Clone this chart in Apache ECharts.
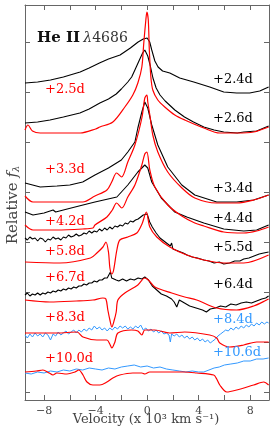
<!DOCTYPE html>
<html><head><meta charset="utf-8">
<script src="https://cdn.jsdelivr.net/npm/echarts@6/dist/echarts.min.js"></script>
<style>html,body{margin:0;padding:0;background:#fff}#c{width:274px;height:434px}</style>
</head><body><div id="c"></div>
<script>
// Tick values
const velocityTicks = [-8, -6, -4, -2, 0, 2, 4, 6, 8];
const velocityLabels = [-8, -4, 0, 4, 8];
const fluxTicks = [0, 50, 100, 150, 200, 250, 300, 350];

// Epoch labels
const epochs = ['+2.4d', '+2.5d', '+2.6d', '+3.3d', '+3.4d', '+4.2d', '+4.4d', '+5.5d', '+5.8d', '+6.7d', '+6.4d', '+8.3d', '+8.4d', '+10.6d', '+10.0d'];

// Spectra: [velocity (x10^3 km/s), relative flux + offset]
const spec24 = [[-9.48,309],[-8.5,310],[-7.5,312],[-6.5,315],[-5.2,320],[-4.5,324],[-3.7,329],[-3.0,333],[-2.1,337],[-1.3,344],[-0.7,350],[-0.3,353],[0.0,354],[0.2,350],[0.36,342],[0.6,331],[0.85,325],[1.2,321],[1.76,319],[2.53,314],[3.62,310],[4.86,305],[5.95,300],[6.95,299],[7.96,299],[8.74,301],[9.43,305]];
const spec26 = [[-9.48,269],[-8.5,270],[-7.54,272],[-6.5,275],[-5.22,279],[-4.5,283],[-3.67,289],[-3.0,293],[-2.4,298],[-2.0,303],[-1.5,310],[-1.2,315],[-0.95,322],[-0.6,332],[-0.35,339],[-0.18,342],[0.05,336],[0.25,326],[0.45,314],[0.7,304],[1.0,297],[1.4,291],[2.15,282],[2.9,275],[3.6,270],[4.4,265],[5.2,262],[5.95,260],[7.0,259],[7.5,260],[8.5,261],[9.43,266]];
const spec25 = [[-9.48,262],[-9.25,267],[-8.9,261],[-8.3,259],[-6.8,259],[-5.2,259],[-4.0,263],[-3.67,265],[-2.66,270],[-1.73,285],[-1.11,297],[-0.72,309],[-0.41,325],[-0.26,349],[-0.1,372],[-0.02,380],[0.09,372],[0.17,342],[0.29,315],[0.44,302],[0.83,292],[1.37,285],[2.15,277],[2.92,272],[4.4,264],[5.64,259],[6.95,259],[8.27,260],[9.43,265]];
const spec33 = [[-9.48,196],[-8.86,190],[-7.5,190],[-5.0,190],[-4.05,196],[-3.12,202],[-2.75,210],[-2.37,219],[-1.98,215],[-1.5,230],[-0.95,247],[-0.41,274],[-0.18,294],[-0.02,297],[0.05,290],[0.21,277],[0.44,257],[0.83,240],[1.6,220],[2.7,204],[3.7,194],[5.4,189],[6.95,189],[8.27,192],[9.43,197]];
const spec34 = [[-9.48,209],[-8.3,205],[-7.0,206],[-6.0,207],[-5.0,210],[-4.05,217],[-3.0,224],[-2.0,232],[-1.5,240],[-0.95,250],[-0.72,264],[-0.41,280],[-0.18,290],[0.05,284],[0.36,267],[0.83,247],[1.6,225],[2.69,207],[3.7,197],[5.4,190],[6.95,190],[8.27,192],[9.43,197]];
const spec42 = [[-9.48,167],[-8.86,162],[-7.0,162],[-5.0,163],[-4.21,164],[-4.05,167],[-3.12,175],[-2.7,182],[-2.37,189],[-1.96,184],[-1.5,195],[-0.95,207],[-0.41,227],[-0.18,238],[-0.02,240],[0.21,222],[0.6,205],[1.6,187],[2.69,176],[3.7,169],[4.4,166],[5.95,160],[7.5,159],[8.5,161],[9.43,165]];
const spec44 = [[-9.48,180],[-8.86,177],[-8.0,179],[-7.3,182],[-7.1,180],[-6.2,183],[-4.98,187],[-4.05,190],[-2.35,195],[-1.5,207],[-0.72,220],[-0.18,227],[0.05,224],[0.36,210],[1.1,194],[2.15,180],[3.08,175],[4.4,169],[5.95,163],[7.5,161],[8.5,162],[9.43,167]];
const spec55 = [[-9.48,154],[-9.3,152],[-9.1,155],[-8.9,153],[-8.7,154],[-8.5,151],[-8.3,154],[-8.1,153],[-7.9,150],[-7.7,153],[-7.5,152],[-7.3,155],[-7.1,153],[-6.9,154],[-6.7,152],[-6.5,155],[-6.3,154],[-6.1,157],[-5.9,155],[-5.7,156],[-5.5,158],[-5.3,156],[-5.1,157],[-4.9,159],[-4.7,158],[-4.5,161],[-4.3,159],[-4.1,161],[-3.9,160],[-3.7,163],[-3.5,161],[-3.3,164],[-3.1,162],[-2.9,165],[-2.7,163],[-2.5,166],[-2.3,165],[-2.1,167],[-1.9,166],[-1.7,169],[-1.5,168],[-1.3,171],[-1.1,170],[-0.9,172],[-0.7,173],[-0.5,175],[-0.3,177],[-0.15,179],[0.0,178],[0.2,170],[0.4,165],[0.7,159],[1.0,154],[1.3,151],[1.6,148],[1.8,146],[1.9,149],[2.0,143],[2.4,141],[2.8,139],[3.1,137],[3.5,135],[3.9,134],[4.4,132],[4.8,131],[5.2,129],[5.6,130],[5.95,128],[6.4,129],[6.8,131],[7.2,131],[7.5,133],[7.9,134],[8.3,136],[8.7,138],[9.05,139],[9.43,140]];
const spec58 = [[-9.48,130],[-6.77,129],[-4.4,134],[-3.9,139],[-3.43,145],[-3.2,150],[-3.0,140],[-2.89,124],[-2.74,118],[-2.6,122],[-2.35,142],[-2.12,152],[-1.5,155],[-0.8,159],[-0.4,168],[-0.06,180],[0.21,165],[0.75,155],[1.76,145],[3.08,137],[4.4,132],[5.95,129],[7.5,129],[9.43,137]];
const spec64 = [[-9.48,97],[-9.3,99],[-9.1,96],[-8.9,98],[-8.7,97],[-8.5,99],[-8.3,97],[-8.1,99],[-7.9,98],[-7.7,100],[-7.5,99],[-7.3,101],[-7.1,100],[-6.9,102],[-6.7,101],[-6.5,103],[-6.3,102],[-6.1,104],[-5.9,103],[-5.7,105],[-5.5,104],[-5.3,106],[-5.1,106],[-4.9,108],[-4.7,107],[-4.5,109],[-4.3,109],[-4.1,111],[-3.9,110],[-3.7,112],[-3.5,112],[-3.3,114],[-3.1,114],[-2.95,116],[-2.85,120],[-2.75,114],[-2.6,113],[-2.4,112],[-2.2,111],[-1.9,113],[-1.6,111],[-1.3,113],[-1.0,112],[-0.7,114],[-0.4,113],[-0.18,115],[0.1,112],[0.4,106],[0.75,102],[1.1,98],[1.5,96],[1.9,93],[2.1,90],[2.3,85],[2.5,92],[2.9,89],[3.3,86],[3.8,84],[4.3,82],[4.6,80],[4.9,83],[5.3,84],[5.7,86],[6.1,85],[6.5,88],[6.9,87],[7.3,89],[7.7,90],[8.1,89],[8.5,91],[8.9,93],[9.2,94],[9.43,96]];
const spec67 = [[-9.48,92],[-7.54,90],[-5.5,91],[-4.21,92],[-3.43,94],[-3.2,93],[-3.05,82],[-2.89,72],[-2.74,65],[-2.55,72],[-2.4,80],[-2.27,92],[-1.73,99],[-0.72,107],[-0.18,114],[0.1,112],[0.6,105],[1.91,99],[2.92,95],[3.85,92],[5.4,84],[6.95,82],[8.27,86],[9.28,92],[9.43,93]];
const spec83 = [[-9.48,59],[-7.0,59],[-5.45,60],[-4.98,55],[-3.9,52],[-3.12,52],[-2.9,48],[-2.74,44],[-2.5,50],[-2.27,59],[-1.19,62],[-0.72,61],[-0.41,57],[-0.18,62],[0.6,62],[1.76,59],[2.92,60],[4.86,57],[5.4,54],[5.64,49],[6.41,45],[7.5,47],[8.5,50],[9.43,50]];
const spec84 = [[-9.48,57],[-9.3,54],[-9.1,58],[-8.9,55],[-8.7,59],[-8.5,56],[-8.3,58],[-8.1,55],[-7.9,59],[-7.7,57],[-7.5,52],[-7.3,58],[-7.1,56],[-6.9,60],[-6.7,57],[-6.5,59],[-6.3,61],[-6.1,58],[-5.9,60],[-5.7,62],[-5.5,59],[-5.3,62],[-5.1,60],[-4.9,63],[-4.7,61],[-4.5,64],[-4.3,62],[-4.1,66],[-3.9,63],[-3.7,65],[-3.5,62],[-3.3,64],[-3.1,61],[-2.9,64],[-2.7,62],[-2.5,65],[-2.3,63],[-2.1,66],[-1.9,64],[-1.7,66],[-1.5,63],[-1.3,65],[-1.1,63],[-0.9,66],[-0.7,64],[-0.5,67],[-0.3,62],[-0.1,64],[0.1,61],[0.3,63],[0.5,60],[0.7,62],[0.9,59],[1.1,61],[1.3,58],[1.5,59],[1.7,57],[1.8,50],[1.9,58],[2.1,56],[2.3,58],[2.5,55],[2.7,57],[2.9,54],[3.1,56],[3.3,53],[3.5,55],[3.7,52],[3.9,54],[4.1,51],[4.3,53],[4.5,50],[4.7,52],[4.9,49],[5.1,51],[5.3,53],[5.5,56],[5.7,58],[5.9,60],[6.1,62],[6.3,61],[6.5,64],[6.7,62],[6.9,65],[7.1,63],[7.3,66],[7.5,64],[7.7,67],[7.9,65],[8.1,68],[8.3,66],[8.5,69],[8.7,67],[8.9,70],[9.1,68],[9.3,70],[9.43,69]];
const spec106 = [[-9.48,19],[-9.0,18],[-8.5,20],[-8.0,19],[-7.5,21],[-7.0,20],[-6.5,22],[-6.0,21],[-5.5,23],[-5.0,22],[-4.5,24],[-4.0,23],[-3.5,22],[-3.0,24],[-2.5,23],[-2.0,25],[-1.5,26],[-1.0,27],[-0.5,25],[0.0,26],[0.5,24],[1.0,25],[1.5,23],[2.0,22],[2.5,21],[3.0,20],[3.5,21],[4.0,20],[4.4,20],[4.8,22],[5.2,24],[5.6,25],[6.0,27],[6.5,28],[7.0,29],[7.5,31],[8.0,31],[8.5,33],[9.0,33],[9.43,34]];
const spec100 = [[-9.48,20],[-8.6,21],[-8.09,22],[-7.6,19],[-7.31,17],[-7.0,19],[-6.22,18],[-5.6,20],[-5.3,22],[-4.98,17],[-4.67,10],[-4.21,7],[-3.67,7],[-3.12,10],[-2.66,14],[-2.12,17],[-1.11,19],[-0.41,19],[-0.18,18],[0.2,20],[2.92,20],[3.85,19],[5.17,17],[5.4,13],[5.64,7],[6.18,0],[6.95,2],[8.27,7],[9.05,10],[9.43,7]];

const BLACK = '#000000', RED = '#ff0000', BLUE = '#3399ff';
function line(name, data, color, width, smooth) {
  return {
    name, type: 'line', data, showSymbol: false, symbol: 'none',
    smooth: smooth ? 0.3 : false,
    lineStyle: { color, width }, silent: true, animation: false,
    xAxisIndex: 0, yAxisIndex: 0
  };
}
const series = [
  line('+2.4d', spec24, BLACK, 1.1, false),
  line('+2.6d', spec26, BLACK, 1.1, false),
  line('+3.4d', spec34, BLACK, 1.1, false),
  line('+4.4d', spec44, BLACK, 1.1, false),
  line('+5.5d', spec55, BLACK, 1.1, false),
  line('+6.4d', spec64, BLACK, 1.1, false),
  line('+8.4d', spec84, BLUE, 1, false),
  line('+10.6d', spec106, BLUE, 1, false),
  line('+2.5d', spec25, RED, 1.2, true),
  line('+3.3d', spec33, RED, 1.2, true),
  line('+4.2d', spec42, RED, 1.2, true),
  line('+5.8d', spec58, RED, 1.2, true),
  line('+6.7d', spec67, RED, 1.2, true),
  line('+8.3d', spec83, RED, 1.2, true),
  line('+10.0d', spec100, RED, 1.2, true)
];

const SERIF = "'DejaVu Serif', serif";
const AX = '#666';
function xAxisDef(pos, labels) {
  return {
    type: 'value', min: -9.48, max: 9.46, position: pos,
    axisLine: { show: true, onZero: false, lineStyle: { color: AX, width: 1 } },
    axisTick: { show: true, inside: true, length: 5, customValues: velocityTicks, lineStyle: { color: AX } },
    axisLabel: labels ? {
      show: true, customValues: velocityLabels, margin: 6, color: '#444',
      fontFamily: SERIF, fontSize: 11,
      formatter: v => (v < 0 ? '−' + Math.abs(v) : String(v))
    } : { show: false },
    splitLine: { show: false }
  };
}
function yAxisDef(pos) {
  return {
    type: 'value', min: -8, max: 387, position: pos,
    axisLine: { show: true, onZero: false, lineStyle: { color: AX, width: 1 } },
    axisTick: { show: true, inside: true, length: 5, customValues: fluxTicks, lineStyle: { color: AX } },
    axisLabel: { show: false },
    splitLine: { show: false }
  };
}

// label placement (layout only)
const labelPos = {
  '+2.4d': [213, 80, BLACK], '+2.5d': [45, 90, RED], '+2.6d': [213, 119, BLACK],
  '+3.3d': [45, 170, RED], '+3.4d': [213, 189, BLACK], '+4.2d': [45, 222, RED],
  '+4.4d': [213, 219, BLACK], '+5.5d': [213, 248, BLACK], '+5.8d': [45, 252, RED],
  '+6.7d': [45, 278, RED], '+6.4d': [213, 285, BLACK], '+8.3d': [45, 318, RED],
  '+8.4d': [213, 320, BLUE], '+10.6d': [213, 353, BLUE], '+10.0d': [45, 359, RED]
};
const graphics = epochs.map(e => ({
  type: 'text', x: labelPos[e][0], y: labelPos[e][1], z: 100,
  style: { text: e, fill: labelPos[e][2], font: '13px ' + SERIF, textAlign: 'left', textVerticalAlign: 'middle' }
}));
graphics.push({
  type: 'text', x: 37, y: 38, z: 100,
  style: {
    text: '{b|He II} {i|λ}{n|4686}', textVerticalAlign: 'middle', fill: '#222',
    rich: {
      b: { fontFamily: SERIF, fontSize: 15, fontWeight: 'bold', fill: '#111' },
      i: { fontFamily: SERIF, fontSize: 14, fontStyle: 'italic', fill: '#333' },
      n: { fontFamily: SERIF, fontSize: 14, fill: '#333' }
    }
  }
});
graphics.push({
  type: 'text', x: 13, y: 205, rotation: Math.PI / 2, z: 100,
  style: {
    text: '{n|Relative }{i|f}{s|λ}', textAlign: 'center', textVerticalAlign: 'middle',
    rich: {
      n: { fontFamily: SERIF, fontSize: 15, fill: '#444' },
      i: { fontFamily: SERIF, fontSize: 15, fontStyle: 'italic', fill: '#444' },
      s: { fontFamily: SERIF, fontSize: 10, fontStyle: 'italic', fill: '#444', padding: [7, 0, 0, 0] }
    }
  }
});
graphics.push({
  type: 'text', x: 146, y: 420, z: 100,
  style: { text: 'Velocity (x 10³ km s⁻¹)', fill: '#444', font: '13px ' + SERIF, textAlign: 'center', textVerticalAlign: 'middle' }
});

const chart = echarts.init(document.getElementById('c'), null, { renderer: 'canvas' });
chart.setOption({
  animation: false,
  backgroundColor: '#fff',
  grid: { left: 25, right: 5, top: 5, bottom: 34, containLabel: false },
  xAxis: [xAxisDef('bottom', true), xAxisDef('top', false)],
  yAxis: [yAxisDef('left'), yAxisDef('right')],
  series: series,
  graphic: graphics
});
</script>
</body></html>
